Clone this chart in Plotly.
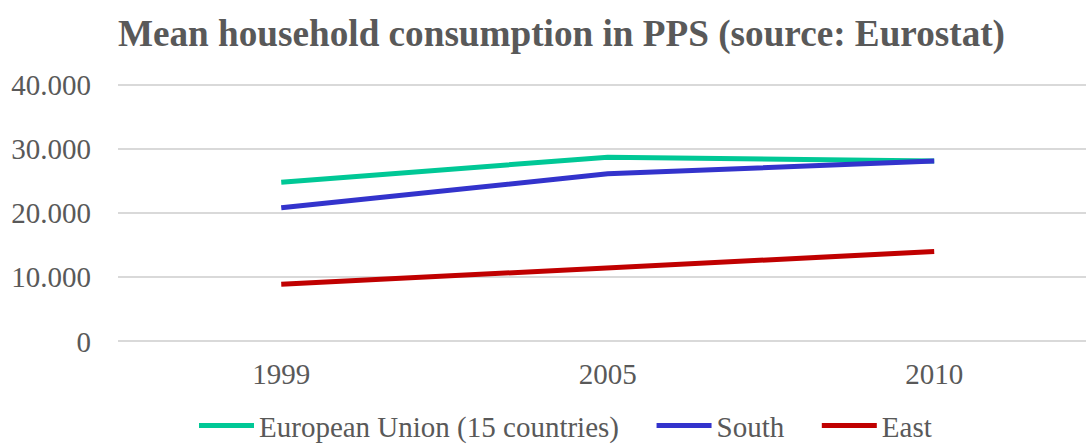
import plotly.graph_objects as go

years = ["1999", "2005", "2010"]
eu15 = [24800, 28700, 28100]
south = [20800, 26100, 28100]
east = [8900, 11400, 14000]
y_ticks = [0, 10000, 20000, 30000, 40000]

pad = "\u00a0\u00a0\u00a0\u2009"
series = [
    ("European Union (15 countries)" + pad, eu15, "#00C896"),
    ("South" + pad, south, "#3333CC"),
    ("East", east, "#C00000"),
]

fig = go.Figure()
for name, vals, color in series:
    fig.add_trace(go.Scatter(
        x=list(range(len(years))), y=vals, name=name, mode="lines",
        line=dict(color=color, width=5),
    ))

font_family = "Liberation Serif"
fig.update_layout(
    width=1086, height=444,
    separators=",.",
    paper_bgcolor="white", plot_bgcolor="white",
    margin=dict(l=118, r=0, t=83, b=101, autoexpand=False),
    font=dict(family=font_family, size=29, color="#595959"),
    title=dict(text="<b>Mean household consumption in PPS (source: Eurostat)</b>",
               x=0.517, xanchor="center", y=0.925, yanchor="middle",
               font=dict(family=font_family, size=37.2, color="#595959")),
    xaxis=dict(
        tickmode="array", tickvals=list(range(len(years))), ticktext=years,
        range=[-0.5, 2.465], showgrid=False, zeroline=False, showline=False,
        ticks="", ticklabelstandoff=11, automargin=False,
    ),
    yaxis=dict(
        range=[-250, 40250], tickvals=y_ticks, tickformat=",",
        showgrid=True, gridcolor="#D9D9D9", gridwidth=1.5,
        zeroline=False, showline=False, ticks="", ticklabelstandoff=26,
        automargin=False,
    ),
    legend=dict(orientation="h", x=0.4623, xanchor="center", y=-0.318, yanchor="middle",
                font=dict(family=font_family, size=29, color="#595959"),
                itemwidth=55, tracegroupgap=0),
    showlegend=True,
)

fig.write_html("out.html", config={"displayModeBar": False},
               post_script="document.body.style.margin='0';document.body.style.overflow='hidden';")
